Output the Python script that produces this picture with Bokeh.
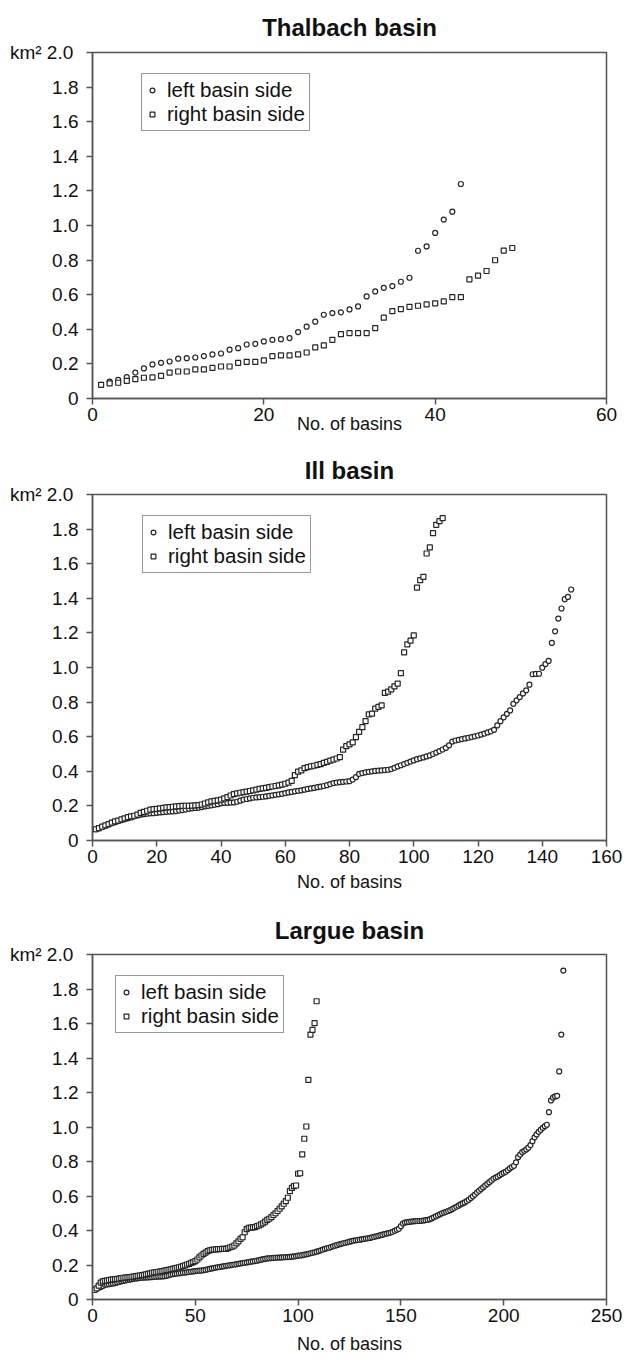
from bokeh.plotting import figure
from bokeh.layouts import column
from bokeh.models import FixedTicker, Legend, LegendItem, Range1d
from bokeh.embed import file_html
from bokeh.resources import INLINE

FONT = "Liberation Sans"
INK = "#262626"
AXIS = "#555555"

# ---------------- data ----------------
y_ticks = [0, 0.2, 0.4, 0.6, 0.8, 1.0, 1.2, 1.4, 1.6, 1.8, 2.0]
y_tick_labels = ["0", "0.2", "0.4", "0.6", "0.8", "1.0", "1.2", "1.4", "1.6", "1.8", "km\u00b2  2.0"]

thalbach_xticks = [0, 20, 40, 60]
ill_xticks = [0, 20, 40, 60, 80, 100, 120, 140, 160]
largue_xticks = [0, 50, 100, 150, 200, 250]

thalbach_left = [
    0.079, 0.098, 0.108, 0.123, 0.150, 0.174, 0.197, 0.206, 0.214, 0.230,
    0.233, 0.237, 0.245, 0.255, 0.260, 0.282, 0.291, 0.312, 0.316, 0.330,
    0.339, 0.343, 0.349, 0.384, 0.415, 0.444, 0.484, 0.494, 0.498, 0.515,
    0.532, 0.590, 0.619, 0.640, 0.650, 0.675, 0.698, 0.854, 0.879, 0.957,
    1.034, 1.080, 1.240]
thalbach_right = [
    0.079, 0.087, 0.091, 0.102, 0.112, 0.120, 0.122, 0.131, 0.150, 0.156,
    0.156, 0.168, 0.168, 0.177, 0.185, 0.185, 0.206, 0.212, 0.212, 0.220,
    0.245, 0.249, 0.249, 0.255, 0.266, 0.295, 0.307, 0.339, 0.372, 0.378,
    0.378, 0.378, 0.407, 0.467, 0.505, 0.517, 0.530, 0.536, 0.544, 0.550,
    0.561, 0.586, 0.586, 0.689, 0.710, 0.737, 0.799, 0.855, 0.870]

ill_left = [
    0.065, 0.070, 0.078, 0.085, 0.092, 0.100, 0.106, 0.112, 0.118, 0.123,
    0.128, 0.133, 0.140, 0.145, 0.149, 0.152, 0.155, 0.157, 0.158, 0.160,
    0.162, 0.164, 0.166, 0.167, 0.168, 0.170, 0.173, 0.176, 0.179, 0.183,
    0.186, 0.188, 0.190, 0.193, 0.197, 0.200, 0.203, 0.206, 0.210, 0.215,
    0.217, 0.218, 0.219, 0.220, 0.224, 0.230, 0.236, 0.240, 0.243, 0.247,
    0.249, 0.251, 0.253, 0.255, 0.258, 0.261, 0.264, 0.267, 0.270, 0.274,
    0.278, 0.281, 0.284, 0.287, 0.290, 0.294, 0.298, 0.301, 0.304, 0.308,
    0.311, 0.315, 0.320, 0.326, 0.332, 0.335, 0.337, 0.339, 0.341, 0.343,
    0.352, 0.366, 0.385, 0.390, 0.394, 0.397, 0.400, 0.402, 0.404, 0.405,
    0.407, 0.409, 0.413, 0.420, 0.428, 0.435, 0.442, 0.449, 0.456, 0.463,
    0.470, 0.475, 0.480, 0.486, 0.492, 0.500, 0.508, 0.517, 0.526, 0.535,
    0.550, 0.572, 0.578, 0.582, 0.586, 0.590, 0.594, 0.598, 0.602, 0.607,
    0.612, 0.618, 0.625, 0.631, 0.640, 0.665, 0.690, 0.712, 0.732, 0.752,
    0.790, 0.810, 0.829, 0.850, 0.868, 0.901, 0.961, 0.963, 0.964, 0.999,
    1.020, 1.038, 1.142, 1.209, 1.283, 1.341, 1.395, 1.408, 1.451]
ill_right = [
    0.065, 0.072, 0.080, 0.088, 0.095, 0.103, 0.110, 0.115, 0.122, 0.128,
    0.135, 0.140, 0.143, 0.150, 0.160, 0.166, 0.172, 0.178, 0.181, 0.183,
    0.186, 0.189, 0.191, 0.193, 0.195, 0.197, 0.199, 0.200, 0.201, 0.201,
    0.202, 0.203, 0.205, 0.208, 0.214, 0.220, 0.226, 0.229, 0.232, 0.236,
    0.243, 0.251, 0.260, 0.268, 0.272, 0.276, 0.280, 0.283, 0.286, 0.290,
    0.294, 0.298, 0.301, 0.304, 0.308, 0.312, 0.315, 0.319, 0.323, 0.328,
    0.334, 0.345, 0.378, 0.398, 0.405, 0.418, 0.424, 0.428, 0.432, 0.437,
    0.442, 0.449, 0.455, 0.462, 0.468, 0.474, 0.482, 0.525, 0.545, 0.556,
    0.567, 0.598, 0.628, 0.655, 0.690, 0.729, 0.733, 0.762, 0.772, 0.781,
    0.853, 0.860, 0.874, 0.891, 0.907, 0.968, 1.088, 1.134, 1.155, 1.186,
    1.462, 1.505, 1.524, 1.659, 1.694, 1.777, 1.825, 1.846, 1.863]

largue_left = [
    0.055, 0.062, 0.068, 0.072, 0.078, 0.085, 0.087, 0.089, 0.091, 0.093,
    0.095, 0.098, 0.102, 0.106, 0.108, 0.110, 0.113, 0.115, 0.118, 0.120,
    0.122, 0.123, 0.125, 0.126, 0.127, 0.128, 0.128, 0.129, 0.130, 0.131,
    0.132, 0.133, 0.133, 0.134, 0.135, 0.137, 0.140, 0.144, 0.147, 0.149,
    0.150, 0.152, 0.153, 0.155, 0.156, 0.158, 0.160, 0.161, 0.163, 0.165,
    0.166, 0.167, 0.168, 0.170, 0.172, 0.175, 0.177, 0.180, 0.182, 0.185,
    0.187, 0.189, 0.191, 0.193, 0.195, 0.197, 0.199, 0.201, 0.203, 0.205,
    0.207, 0.209, 0.211, 0.213, 0.215, 0.217, 0.219, 0.221, 0.223, 0.225,
    0.228, 0.231, 0.234, 0.236, 0.238, 0.239, 0.240, 0.241, 0.242, 0.243,
    0.243, 0.244, 0.245, 0.246, 0.246, 0.247, 0.248, 0.250, 0.252, 0.254,
    0.255, 0.257, 0.260, 0.262, 0.265, 0.268, 0.271, 0.274, 0.277, 0.281,
    0.285, 0.289, 0.293, 0.297, 0.300, 0.304, 0.308, 0.312, 0.316, 0.320,
    0.323, 0.326, 0.329, 0.332, 0.335, 0.338, 0.341, 0.343, 0.345, 0.347,
    0.349, 0.351, 0.353, 0.355, 0.357, 0.360, 0.363, 0.366, 0.369, 0.373,
    0.376, 0.379, 0.382, 0.385, 0.388, 0.392, 0.398, 0.404, 0.410, 0.425,
    0.440, 0.446, 0.448, 0.450, 0.452, 0.453, 0.454, 0.455, 0.455, 0.456,
    0.458, 0.460, 0.462, 0.465, 0.470, 0.476, 0.482, 0.488, 0.494, 0.500,
    0.504, 0.508, 0.513, 0.518, 0.524, 0.531, 0.537, 0.544, 0.551, 0.557,
    0.563, 0.570, 0.578, 0.588, 0.598, 0.608, 0.620, 0.630, 0.640, 0.650,
    0.660, 0.670, 0.680, 0.690, 0.700, 0.707, 0.712, 0.720, 0.728, 0.735,
    0.740, 0.750, 0.760, 0.768, 0.775, 0.795, 0.825, 0.840, 0.854, 0.862,
    0.870, 0.880, 0.895, 0.918, 0.940, 0.957, 0.972, 0.984, 0.995, 1.005,
    1.013, 1.086, 1.154, 1.170, 1.177, 1.181, 1.322, 1.536, 1.907]
largue_right = [
    0.055, 0.065, 0.080, 0.098, 0.105, 0.108, 0.110, 0.113, 0.115, 0.117,
    0.118, 0.119, 0.121, 0.124, 0.126, 0.127, 0.128, 0.130, 0.132, 0.133,
    0.135, 0.137, 0.139, 0.141, 0.143, 0.146, 0.149, 0.152, 0.155, 0.157,
    0.159, 0.161, 0.163, 0.165, 0.167, 0.170, 0.172, 0.175, 0.178, 0.181,
    0.184, 0.187, 0.190, 0.194, 0.198, 0.203, 0.207, 0.212, 0.217, 0.222,
    0.232, 0.244, 0.255, 0.265, 0.272, 0.280, 0.285, 0.288, 0.290, 0.291,
    0.292, 0.292, 0.293, 0.293, 0.294, 0.298, 0.303, 0.307, 0.313, 0.325,
    0.337, 0.352, 0.361, 0.390, 0.408, 0.416, 0.417, 0.418, 0.419, 0.425,
    0.429, 0.436, 0.442, 0.452, 0.462, 0.468, 0.477, 0.490, 0.500, 0.513,
    0.526, 0.540, 0.555, 0.570, 0.590, 0.628, 0.647, 0.657, 0.661, 0.729,
    0.732, 0.841, 0.932, 1.003, 1.273, 1.536, 1.563, 1.602, 1.729]

series_labels = ["left basin side", "right basin side"]
x_label = "No. of basins"

# --------------- panels ---------------
panels = [
    dict(title="Thalbach basin", left=thalbach_left, right=thalbach_right,
         xmax=60, xticks=thalbach_xticks, top=52, frame=346, bottom=44,
         xstand=-10, leg_x=49, tstand=23),
    dict(title="Ill basin", left=ill_left, right=ill_right,
         xmax=160, xticks=ill_xticks, top=52, frame=346, bottom=58,
         xstand=6, leg_x=50, tstand=22),
    dict(title="Largue basin", left=largue_left, right=largue_right,
         xmax=250, xticks=largue_xticks, top=56, frame=345, bottom=61,
         xstand=9, leg_x=23, tstand=22),
]

figs = []
for cfg in panels:
    h = cfg["top"] + cfg["frame"] + cfg["bottom"]
    p = figure(width=636, height=h, output_backend="svg", toolbar_location=None,
               x_range=Range1d(0, cfg["xmax"]), y_range=Range1d(0, 2.0),
               min_border_left=92, min_border_right=30,
               min_border_top=cfg["top"], min_border_bottom=cfg["bottom"])
    p.background_fill_color = "white"
    p.border_fill_color = "white"
    p.outline_line_color = AXIS
    p.outline_line_width = 1.5
    p.grid.visible = False

    p.title.text = cfg["title"]
    p.title.align = "center"
    p.title.offset = 6
    p.title.text_font = FONT
    p.title.text_font_size = "24px"
    p.title.text_font_style = "bold"
    p.title.text_color = "#111111"
    p.title.standoff = cfg["tstand"]

    xs_l = list(range(1, len(cfg["left"]) + 1))
    xs_r = list(range(1, len(cfg["right"]) + 1))
    r_left = p.scatter(xs_l, cfg["left"], marker="circle", size=5,
                       line_color=INK, fill_color="white", line_width=1.2)
    r_right = p.scatter(xs_r, cfg["right"], marker="square", size=5,
                        line_color=INK, fill_color="white", line_width=1.2)

    for ax in (p.xaxis[0], p.yaxis[0]):
        ax.axis_line_color = AXIS
        ax.axis_line_width = 1.5
        ax.major_tick_line_color = AXIS
        ax.major_tick_line_width = 1.5
        ax.major_tick_out = 6
        ax.major_tick_in = 0
        ax.minor_tick_line_color = None
        ax.major_label_text_font = FONT
        ax.major_label_text_font_size = "19px"
        ax.major_label_text_color = "#111111"

    p.xaxis.ticker = FixedTicker(ticks=cfg["xticks"])
    p.xaxis.major_label_standoff = 3
    p.xaxis.axis_label = x_label
    p.xaxis.axis_label_text_font = FONT
    p.xaxis.axis_label_text_font_size = "18px"
    p.xaxis.axis_label_text_font_style = "normal"
    p.xaxis.axis_label_text_color = "#111111"
    p.xaxis.axis_label_standoff = cfg["xstand"]

    p.yaxis.ticker = FixedTicker(ticks=y_ticks)
    p.yaxis.major_label_overrides = {t: s for t, s in zip(y_ticks, y_tick_labels)}
    p.yaxis.major_label_standoff = 8

    legend = Legend(items=[LegendItem(label=series_labels[0], renderers=[r_left]),
                           LegendItem(label=series_labels[1], renderers=[r_right])],
                    location=(cfg["leg_x"], round(cfg["frame"] * 0.772)))
    legend.label_text_font = FONT
    legend.label_text_font_size = "20.5px"
    legend.label_text_color = "#111111"
    legend.label_text_line_height = 1.0
    legend.label_height = 20
    legend.glyph_width = 12
    legend.glyph_height = 16
    legend.label_standoff = 9
    legend.padding = 4
    legend.spacing = 0
    legend.margin = 0
    legend.border_line_color = "#333333"
    legend.border_line_width = 1
    legend.background_fill_color = "white"
    legend.background_fill_alpha = 1.0
    p.add_layout(legend)
    figs.append(p)

layout = column(*figs, spacing=0)
open("out.html", "w").write(file_html(layout, INLINE))
